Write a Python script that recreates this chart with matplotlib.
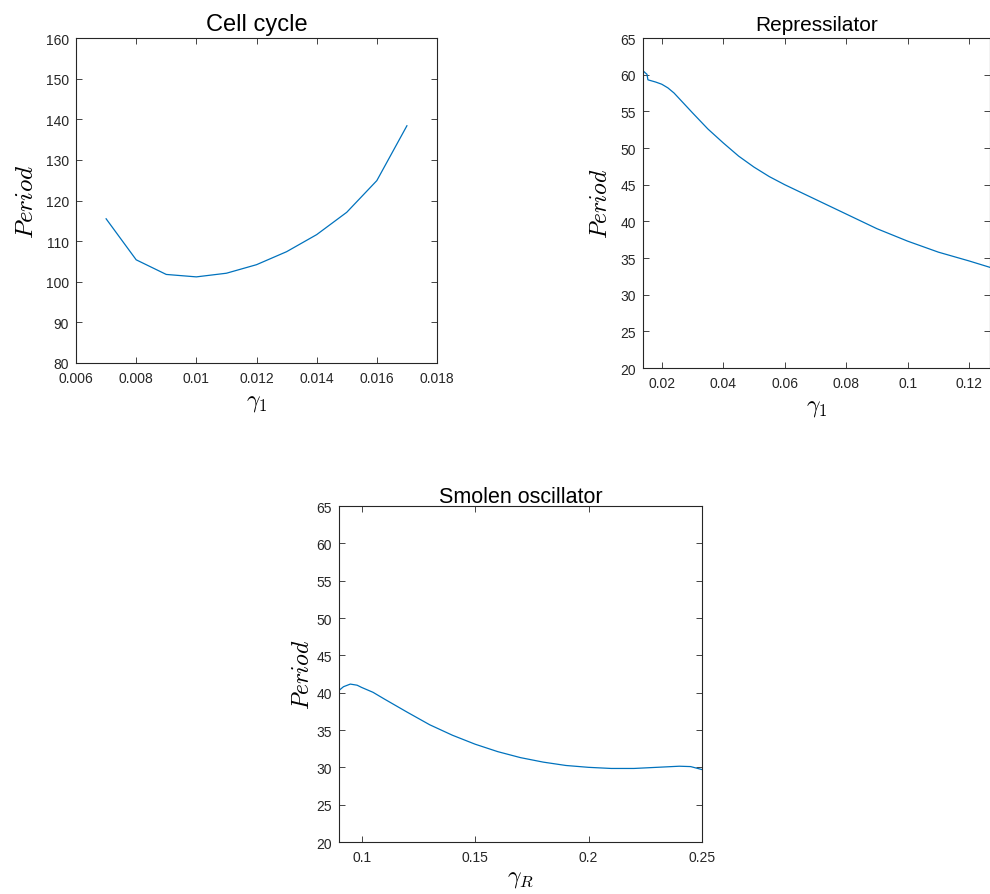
import matplotlib
matplotlib.use('Agg')
import matplotlib.pyplot as plt

plt.rcParams['font.family'] = ['Liberation Sans', 'DejaVu Sans']
plt.rcParams['mathtext.fontset'] = 'cm'

# Cell cycle
cc_gamma = [0.007, 0.008, 0.009, 0.010, 0.011, 0.012, 0.013, 0.014, 0.015, 0.016, 0.017]
cc_period = [115.5, 105.4, 101.8, 101.2, 102.1, 104.2, 107.4, 111.6, 117.1, 124.9, 138.4]

# Repressilator
rep_gamma = [0.014, 0.0145, 0.0152, 0.0155, 0.018, 0.02, 0.022, 0.024, 0.026, 0.028, 0.03,
             0.035, 0.04, 0.045, 0.05, 0.055, 0.06, 0.07, 0.08, 0.09, 0.1, 0.11, 0.12, 0.127]
rep_period = [60.5, 60.3, 60.05, 59.3, 59.0, 58.7, 58.2, 57.5, 56.6, 55.7, 54.8,
              52.6, 50.7, 48.9, 47.4, 46.1, 45.0, 43.0, 41.0, 39.0, 37.3, 35.8, 34.6, 33.7]

# Smolen oscillator
sm_gamma = [0.09, 0.092, 0.095, 0.098, 0.1, 0.105, 0.11, 0.12, 0.13, 0.14, 0.15, 0.16,
            0.17, 0.18, 0.19, 0.2, 0.21, 0.22, 0.23, 0.24, 0.245, 0.25]
sm_period = [40.3, 40.8, 41.15, 41.0, 40.7, 40.05, 39.15, 37.4, 35.7, 34.3, 33.1, 32.1,
             31.3, 30.7, 30.25, 30.0, 29.85, 29.85, 30.0, 30.15, 30.1, 29.7]

blue = '#0072BD'
dark = '#262626'

fig = plt.figure(figsize=(9.9, 8.95), dpi=100)


def style(ax):
    ax.tick_params(direction='in', top=True, right=True, labelsize=10,
                   colors=dark, length=4, width=0.6)
    ax.tick_params(axis='x', pad=6)
    ax.tick_params(axis='y', pad=5)
    for s in ax.spines.values():
        s.set_color(dark)
        s.set_linewidth(0.8)


ax1 = fig.add_axes([0.0768, 0.5933, 0.3646, 0.3631])
ax1.plot(cc_gamma, cc_period, color=blue, lw=0.9)
ax1.set_xlim(0.006, 0.018)
ax1.set_ylim(80, 160)
ax1.set_xticks([0.006, 0.008, 0.01, 0.012, 0.014, 0.016, 0.018])
ax1.set_xticklabels(['0.006', '0.008', '0.01', '0.012', '0.014', '0.016', '0.018'])
ax1.set_title('Cell cycle', fontsize=17, pad=6)
ax1.set_xlabel(r'$\gamma_1$', fontsize=17, labelpad=4)
ax1.set_ylabel(r'$Period$', fontsize=18, labelpad=6)
style(ax1)

ax2 = fig.add_axes([0.6495, 0.5877, 0.3505, 0.3687])
ax2.plot(rep_gamma, rep_period, color=blue, lw=0.9)
ax2.set_xlim(0.0139, 0.1268)
ax2.set_ylim(20, 65)
ax2.set_xticks([0.02, 0.04, 0.06, 0.08, 0.1, 0.12])
ax2.set_xticklabels(['0.02', '0.04', '0.06', '0.08', '0.1', '0.12'])
ax2.set_title('Repressilator', fontsize=15, pad=6)
ax2.set_xlabel(r'$\gamma_1$', fontsize=17, labelpad=4)
ax2.set_ylabel(r'$Period$', fontsize=17, labelpad=6)
style(ax2)

ax3 = fig.add_axes([0.3424, 0.0581, 0.3667, 0.3754])
ax3.plot(sm_gamma, sm_period, color=blue, lw=0.9)
ax3.set_xlim(0.09, 0.25)
ax3.set_ylim(20, 65)
ax3.set_xticks([0.1, 0.15, 0.2, 0.25])
ax3.set_xticklabels(['0.1', '0.15', '0.2', '0.25'])
ax3.set_title('Smolen oscillator', fontsize=15.5, pad=3)
ax3.set_xlabel(r'$\gamma_R$', fontsize=17, labelpad=2)
ax3.set_ylabel(r'$Period$', fontsize=17, labelpad=2)
style(ax3)

fig.savefig('out.png', dpi=100)
